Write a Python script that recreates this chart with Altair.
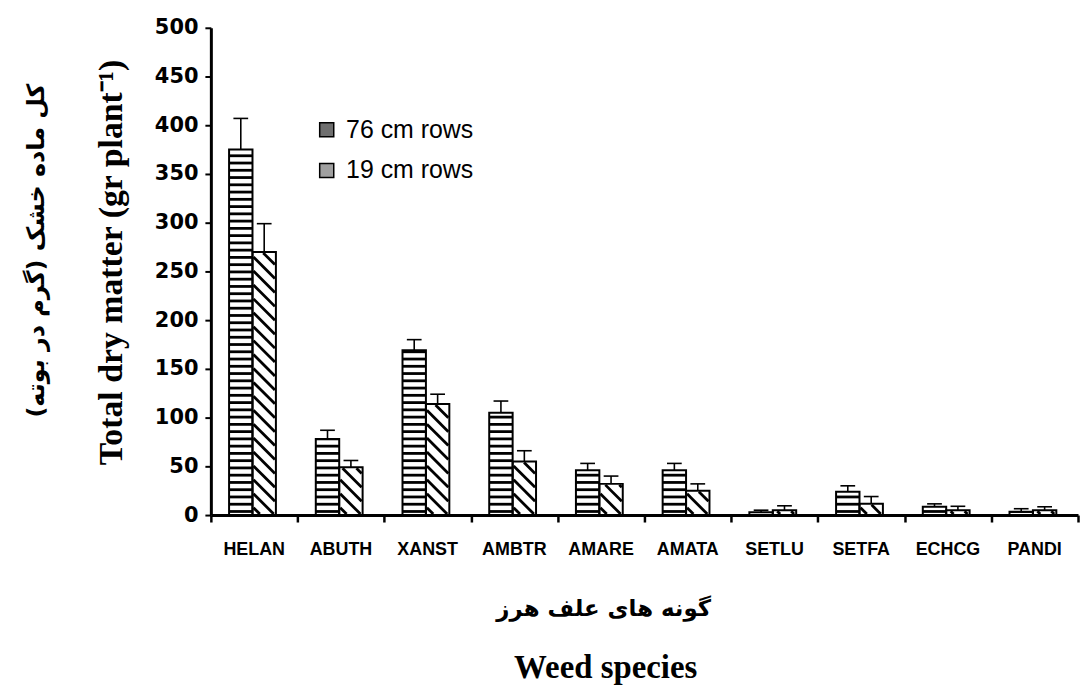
import altair as alt
import pandas as pd
import numpy as np

# ---------------- data ----------------
species = ["HELAN", "ABUTH", "XANST", "AMBTR", "AMARE", "AMATA", "SETLU", "SETFA", "ECHCG", "PANDI"]
series = ["76 cm rows", "19 cm rows"]
dm_76 = [375, 78, 169, 105, 46, 46, 3, 24, 8.5, 3.5]
err_76 = [32, 9, 11, 12, 7, 7, 2, 6, 3, 3]
dm_19 = [270, 49, 114, 55, 32, 25, 5, 11.5, 5, 5]
err_19 = [29, 7, 10, 11, 8, 7, 4.5, 7.5, 4, 3.5]
y_ticks = list(range(0, 501, 50))

y_title_en = ["Total dry matter (gr plant\u207b\u00b9)"]
y_title_fa = ["کل ماده خشک (گرم در بوته)"]
x_title_fa = ["گونه های علف هرز"]
x_title_en = ["Weed species"]

# ---------------- layout ----------------
W, H = 872, 490
YMAX = 500
NCAT = len(species)
PX_X = W / NCAT
PX_Y = H / YMAX
slots = {series[0]: (0.21, 0.48), series[1]: (0.48, 0.75)}
CAP = 0.085

rows = []
for i, s in enumerate(species):
    for ser, vals, errs in ((series[0], dm_76, err_76), (series[1], dm_19, err_19)):
        a, b = slots[ser]
        v = vals[i]
        e = errs[i]
        xc = i + (a + b) / 2
        rows.append(dict(species=s, series=ser, x0=i + a, x1=i + b, y0=0, v=v,
                         top=v + e, xc=xc, c0=xc - CAP, c1=xc + CAP))
bars = pd.DataFrame(rows)

# horizontal stripes (76 cm) derived from the bar heights
STRIPE_P, STRIPE_T, STRIPE_G = 7.3, 2.8, 2.2
srows = []
for r in bars[bars.series == series[0]].itertuples():
    hpx = r.v * PX_Y
    k = 0
    while True:
        lo = STRIPE_G + k * STRIPE_P
        if lo >= hpx - 1:
            break
        hi = min(lo + STRIPE_T, hpx)
        srows.append(dict(x0=r.x0, x1=r.x1, ya=lo / PX_Y, yb=hi / PX_Y))
        k += 1
stripes = pd.DataFrame(srows)

# diagonal hatching (19 cm) derived from the bar heights
DIAG_P = 14.0
drows = []
for r in bars[bars.series == series[1]].itertuples():
    wpx = (r.x1 - r.x0) * PX_X
    hpx = r.v * PX_Y
    inset = 1.0
    c = DIAG_P * 0.6
    while c < hpx + wpx:
        xs = max(inset, c - (hpx - inset))
        xe = min(wpx - inset, c - inset)
        if xe > xs:
            drows.append(dict(xa=r.x0 + xs / PX_X, ya=(c - xs) / PX_Y,
                              xb=r.x0 + xe / PX_X, yb=(c - xe) / PX_Y))
        c += DIAG_P
diags = pd.DataFrame(drows)

labels_df = pd.DataFrame({"species": species, "xm": [i + 0.5 for i in range(NCAT)]})
legend_df = pd.DataFrame({"series": series, "z": [0, 0]})

xscale = alt.Scale(domain=[0, NCAT], nice=False, zero=False)
yscale = alt.Scale(domain=[0, YMAX], nice=False)

x_axis = alt.Axis(values=list(range(NCAT + 1)), labels=False, tickSize=7, tickWidth=2.5,
                  tickColor="black", domainColor="black", domainWidth=3, grid=False, title=None)
y_axis = alt.Axis(values=y_ticks, tickSize=6, tickWidth=2, tickColor="black",
                  domainColor="black", domainWidth=3, grid=False, title=None,
                  labelFont="DejaVu Sans", labelFontWeight="bold", labelFontSize=21,
                  labelColor="black", labelPadding=7)

base = alt.Chart(bars)

fills = base.mark_rect(color="white").encode(
    x=alt.X("x0:Q", scale=xscale, axis=x_axis), x2="x1:Q",
    y=alt.Y("y0:Q", scale=yscale, axis=y_axis), y2="v:Q")

stripe_layer = alt.Chart(stripes).mark_rect(color="black").encode(
    x=alt.X("x0:Q", scale=xscale), x2="x1:Q",
    y=alt.Y("ya:Q", scale=yscale), y2="yb:Q")

diag_layer = alt.Chart(diags).mark_rule(color="black", strokeWidth=2.8).encode(
    x=alt.X("xa:Q", scale=xscale), x2="xb:Q",
    y=alt.Y("ya:Q", scale=yscale), y2="yb:Q")

outline = base.mark_rect(filled=False, stroke="black", strokeWidth=2).encode(
    x=alt.X("x0:Q", scale=xscale), x2="x1:Q",
    y=alt.Y("y0:Q", scale=yscale), y2="v:Q")

err_v = base.mark_rule(color="black", strokeWidth=1.6).encode(
    x=alt.X("xc:Q", scale=xscale),
    y=alt.Y("v:Q", scale=yscale), y2="top:Q")

err_cap = base.mark_rule(color="black", strokeWidth=1.6).encode(
    x=alt.X("c0:Q", scale=xscale), x2="c1:Q",
    y=alt.Y("top:Q", scale=yscale))

legend_layer = alt.Chart(legend_df).mark_rect().encode(
    x=alt.X("z:Q", scale=xscale), x2="z:Q",
    y=alt.Y("z:Q", scale=yscale), y2="z:Q",
    fill=alt.Fill("series:N", sort=series,
                  scale=alt.Scale(domain=series, range=["#6e6e6e", "#a0a0a0"]),
                  legend=alt.Legend(title=None, orient="none", legendX=104, legendY=90,
                                    symbolType="square", symbolSize=200,
                                    symbolStrokeColor="black", symbolStrokeWidth=1.5,
                                    symbolOpacity=1, labelFont="Liberation Sans",
                                    labelFontSize=25, labelColor="black", labelOffset=7,
                                    rowPadding=15, padding=0)))

cat_labels = alt.Chart(labels_df).mark_text(
    font="Liberation Sans", fontWeight="bold", fontSize=18, color="black", baseline="middle"
).encode(x=alt.X("xm:Q", scale=xscale), y=alt.value(H + 35), text="species:N")

def title_text(lst, font, size, x, y, angle=0):
    return alt.Chart(pd.DataFrame({"t": lst})).mark_text(
        font=font, fontWeight="bold", fontSize=size, color="black",
        angle=angle, align="center", baseline="middle"
    ).encode(x=alt.value(x), y=alt.value(y), text="t:N")

t_y_en = title_text(y_title_en, "Liberation Serif", 34, -99, 236, 270)
t_y_fa = title_text(y_title_fa, "DejaVu Sans", 24, -175, 224, 270)
t_x_fa = title_text(x_title_fa, "DejaVu Sans", 23, 395, 585)
t_x_en = title_text(x_title_en, "Liberation Serif", 33, 397, 644)

chart = alt.layer(
    fills, stripe_layer, diag_layer, outline, err_v, err_cap, legend_layer,
    cat_labels, t_y_en, t_y_fa, t_x_fa, t_x_en
).properties(
    width=W, height=H,
    padding={"left": 204, "top": 18, "right": 2, "bottom": 170},
    autosize=alt.AutoSizeParams(type="none"),
    background="white"
).configure_view(stroke=None)

chart.save("out.html", embed_options={"renderer": "svg", "actions": False})
